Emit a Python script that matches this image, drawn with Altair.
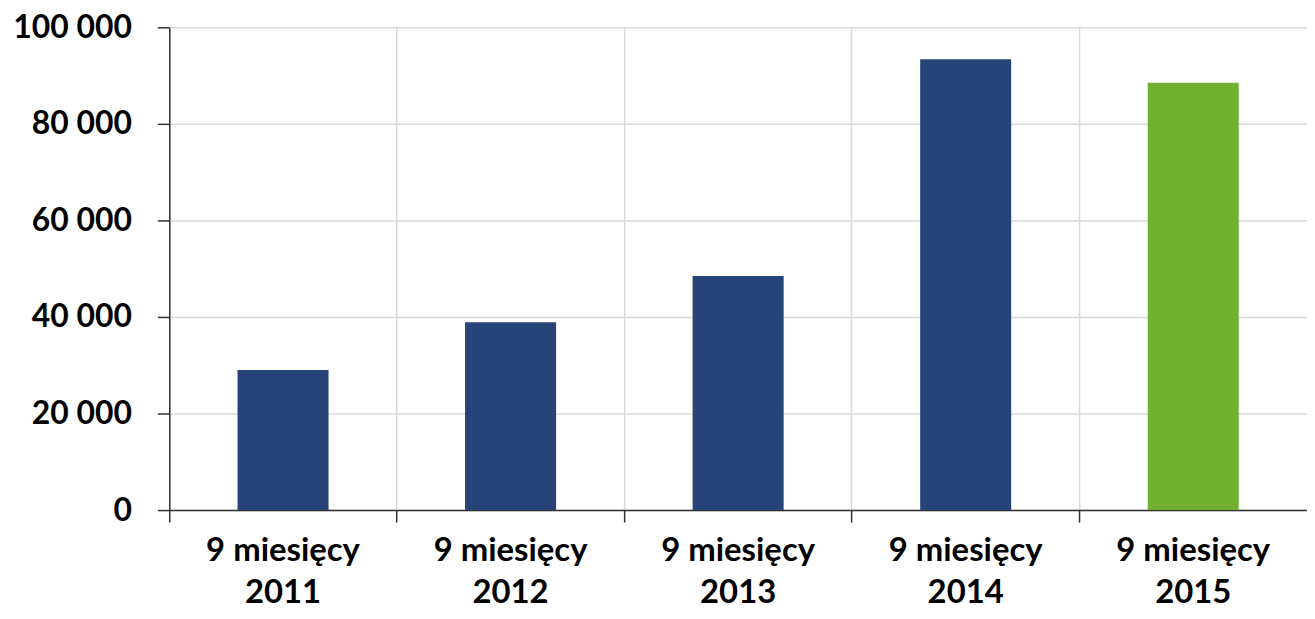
import altair as alt
import pandas as pd

periods = ["9 miesięcy", "9 miesięcy", "9 miesięcy", "9 miesięcy", "9 miesięcy"]
years = ["2011", "2012", "2013", "2014", "2015"]
values = [29000, 38900, 48500, 93400, 88500]
colors = ["#264478", "#264478", "#264478", "#264478", "#70B12F"]

df = pd.DataFrame({
    "cat": [f"{p}\n{y}" for p, y in zip(periods, years)],
    "value": values,
    "color": colors,
})

FONT = "Lato"

chart = alt.Chart(df).mark_bar(width=alt.RelativeBandSize(0.4)).encode(
    x=alt.X("cat:N", sort=None, title=None,
            scale=alt.Scale(paddingInner=0, paddingOuter=0),
            axis=alt.Axis(labelAngle=0, bandPosition=0, grid=True,
                          gridColor="#d9d9d9", gridWidth=1.5,
                          domainColor="#333333", domainWidth=1.5,
                          tickColor="#333333", tickWidth=1.5, tickSize=12,
                          labelFont=FONT, labelFontWeight="bold", labelFontSize=33,
                          labelColor="#000000", labelPadding=13, labelLineHeight=42,
                          labelExpr="split(datum.label, '\\n')")),
    y=alt.Y("value:Q", title=None,
            scale=alt.Scale(domain=[0, 100000], nice=False),
            axis=alt.Axis(values=[0, 20000, 40000, 60000, 80000, 100000],
                          grid=True, gridColor="#d9d9d9", gridWidth=1.5,
                          domainColor="#333333", domainWidth=1.5,
                          tickColor="#333333", tickWidth=1.5, tickSize=12,
                          labelFont=FONT, labelFontWeight="bold", labelFontSize=32,
                          labelColor="#000000", labelPadding=26,
                          labelExpr="replace(format(datum.value, ','), ',', ' ')")),
    color=alt.Color("color:N", scale=None, legend=None),
).properties(
    width=1143, height=485,
    autosize=alt.AutoSizeParams(type="none"),
    padding={"left": 162, "top": 18, "right": 0, "bottom": 100},
).configure_view(stroke=None)

chart.save("out.html", embed_options={"renderer": "svg", "actions": False})
